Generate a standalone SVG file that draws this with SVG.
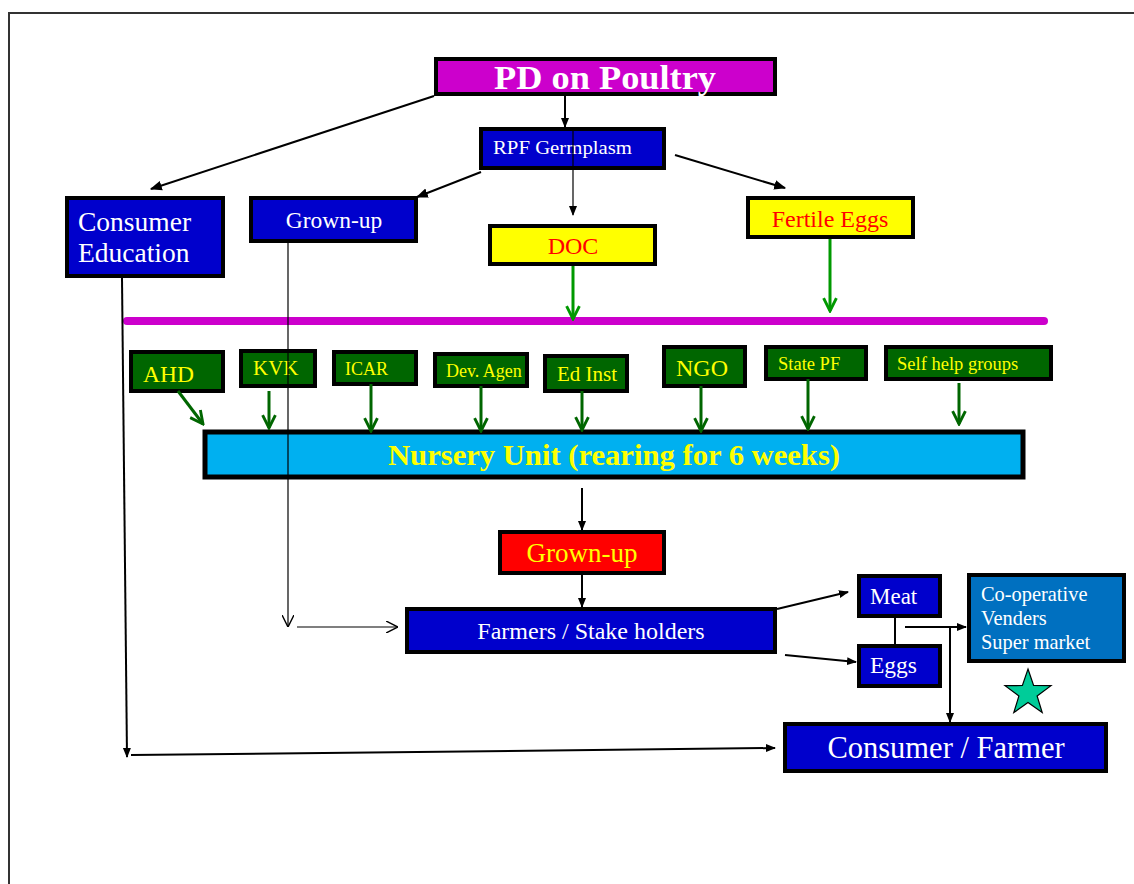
<svg xmlns="http://www.w3.org/2000/svg" width="1134" height="884" viewBox="0 0 1134 884">
<defs>
<style>
.box{stroke:#000;stroke-width:4}
.blue{fill:#0000cc}
.green{fill:#006600}
.yel{fill:#ffff00}
.t{font-family:"Liberation Serif","Times New Roman",serif}
.w{fill:#fff}
.y{fill:#ffff00}
.r{fill:#ff0000}
.k{stroke:#000;stroke-width:2;fill:none}
.kt{stroke:#000;stroke-width:1.2;fill:none}
.g{stroke:#006600;stroke-width:3;fill:none}
.g2{stroke:#009900;stroke-width:3;fill:none}
</style>
<marker id="ah" viewBox="0 0 10 10" refX="9" refY="5" markerWidth="10" markerHeight="10" orient="auto" markerUnits="userSpaceOnUse">
<path d="M0,1 L10,5 L0,9 z" fill="#000"/>
</marker>
<marker id="ahs" viewBox="0 0 10 10" refX="9" refY="5" markerWidth="12" markerHeight="12" orient="auto" markerUnits="userSpaceOnUse">
<path d="M0,1 L10,5 L0,9 z" fill="#000"/>
</marker>
<marker id="av" viewBox="0 0 10 10" refX="10" refY="5" markerWidth="12" markerHeight="12" orient="auto" markerUnits="userSpaceOnUse">
<path d="M0,0 L10,5 L0,10" fill="none" stroke="#000" stroke-width="1.2"/>
</marker>
<marker id="gv" viewBox="0 0 10 10" refX="9" refY="5" markerWidth="16" markerHeight="16" orient="auto" markerUnits="userSpaceOnUse">
<path d="M1,1 L9,5 L1,9" fill="none" stroke="#006600" stroke-width="1.8"/>
</marker>
<marker id="gv2" viewBox="0 0 10 10" refX="9" refY="5" markerWidth="16" markerHeight="16" orient="auto" markerUnits="userSpaceOnUse">
<path d="M1,1 L9,5 L1,9" fill="none" stroke="#009900" stroke-width="1.8"/>
</marker>
</defs>
<rect width="1134" height="884" fill="#fff"/>
<g id="frame">
<path d="M9,884 L9,13 L1134,13" fill="none" stroke="#333" stroke-width="2"/>
</g>
<line x1="127" y1="321" x2="1044" y2="321" stroke="#cc00cc" stroke-width="8" stroke-linecap="round"/>

<g id="pd"><rect class="box" x="436" y="59" width="339" height="35" fill="#cc00cc"/>
<text class="t w" x="605" y="89" font-size="34" font-weight="bold" text-anchor="middle" textLength="222" lengthAdjust="spacingAndGlyphs">PD on Poultry</text></g>
<g id="rpf"><rect class="box blue" x="481" y="129" width="183" height="39"/>
<text class="t w" x="493" y="154" font-size="18" textLength="139" lengthAdjust="spacingAndGlyphs">RPF Germplasm</text></g>
<g id="consedu"><rect class="box blue" x="67" y="198" width="156" height="78"/>
<text class="t w" x="78" y="231" font-size="27.5">Consumer</text>
<text class="t w" x="78" y="262" font-size="27.5">Education</text></g>
<g id="grownup1"><rect class="box blue" x="251" y="198" width="165" height="43"/>
<text class="t w" x="334" y="228" font-size="23.5" text-anchor="middle">Grown-up</text></g>
<g id="doc"><rect class="box yel" x="490" y="226" width="165" height="38"/>
<text class="t r" x="573" y="254" font-size="24" text-anchor="middle">DOC</text></g>
<g id="fertile"><rect class="box yel" x="748" y="198" width="165" height="39"/>
<text class="t r" x="830" y="227" font-size="24" text-anchor="middle">Fertile Eggs</text></g>

<g id="ahd"><rect class="box green" x="131" y="352" width="92" height="39"/>
<text class="t y" x="143" y="382" font-size="23.5">AHD</text></g>
<g id="kvk"><rect class="box green" x="241" y="351" width="74" height="35"/>
<text class="t y" x="253" y="375" font-size="21">KVK</text></g>
<g id="icar"><rect class="box green" x="334" y="352" width="82" height="32"/>
<text class="t y" x="345" y="375" font-size="18">ICAR</text></g>
<g id="dev"><rect class="box green" x="435" y="354" width="92" height="32"/>
<text class="t y" x="446" y="377" font-size="18">Dev. Agen</text></g>
<g id="edinst"><rect class="box green" x="545" y="356" width="82" height="35"/>
<text class="t y" x="557" y="381" font-size="21">Ed Inst</text></g>
<g id="ngo"><rect class="box green" x="664" y="347" width="81" height="39"/>
<text class="t y" x="676" y="376" font-size="24">NGO</text></g>
<g id="statepf"><rect class="box green" x="766" y="347" width="100" height="32"/>
<text class="t y" x="778" y="370" font-size="18.5">State PF</text></g>
<g id="shg"><rect class="box green" x="886" y="347" width="165" height="32"/>
<text class="t y" x="897" y="370" font-size="18.5">Self help groups</text></g>

<g id="nursery"><rect x="205" y="432" width="818" height="45" fill="#00b0f0" stroke="#000" stroke-width="5"/>
<text class="t y" x="614" y="465" font-size="29" font-weight="bold" text-anchor="middle" textLength="452" lengthAdjust="spacingAndGlyphs">Nursery Unit (rearing for 6 weeks)</text></g>
<g id="grownup2"><rect class="box" x="500" y="532" width="164" height="41" fill="#ff0000"/>
<text class="t y" x="582" y="562" font-size="27" text-anchor="middle">Grown-up</text></g>
<g id="farmers"><rect class="box blue" x="407" y="609" width="368" height="43"/>
<text class="t w" x="591" y="639" font-size="24" text-anchor="middle">Farmers / Stake holders</text></g>
<g id="meat"><rect class="box blue" x="859" y="576" width="81" height="40"/>
<text class="t w" x="870" y="604" font-size="23">Meat</text></g>
<g id="eggs"><rect class="box blue" x="859" y="646" width="81" height="40"/>
<text class="t w" x="870" y="673" font-size="23.5">Eggs</text></g>
<g id="coop"><rect class="box" x="969" y="575" width="155" height="86" fill="#0070c0"/>
<text class="t w" x="981" y="601" font-size="20.4">Co-operative</text>
<text class="t w" x="981" y="625" font-size="20.4">Venders</text>
<text class="t w" x="981" y="649" font-size="20.4">Super market</text></g>
<g id="consfarm"><rect class="box blue" x="785" y="724" width="321" height="47"/>
<text class="t w" x="946" y="758" font-size="30.5" text-anchor="middle">Consumer / Farmer</text></g>
<g id="star"><polygon points="1028,669 1033.6,685.5 1051,685.7 1037.1,696 1042.2,712.6 1028,702.6 1013.8,712.6 1018.9,696 1005,685.7 1022.4,685.5" fill="#00cc99" stroke="#000" stroke-width="1.2"/></g>

<g id="connectors">
<line class="k" x1="565" y1="96" x2="565" y2="127" marker-end="url(#ah)"/>
<line class="k" x1="434" y1="96" x2="151" y2="189" marker-end="url(#ahs)"/>
<line class="k" x1="481" y1="172" x2="417" y2="197" marker-end="url(#ahs)"/>
<line class="k" x1="675" y1="155" x2="785" y2="188" marker-end="url(#ahs)"/>
<line class="kt" x1="573" y1="130" x2="573" y2="215" marker-end="url(#ah)"/>
<line class="g2" x1="573" y1="266" x2="573" y2="319" marker-end="url(#gv2)"/>
<line class="g2" x1="830" y1="239" x2="830" y2="311" marker-end="url(#gv2)"/>
<line class="g" x1="178" y1="391" x2="203" y2="424" marker-end="url(#gv)"/>
<line class="g" x1="269" y1="391" x2="269" y2="428" marker-end="url(#gv)"/>
<line class="g" x1="371" y1="384" x2="371" y2="431" marker-end="url(#gv)"/>
<line class="g" x1="481" y1="386" x2="481" y2="431" marker-end="url(#gv)"/>
<line class="g" x1="582" y1="391" x2="582" y2="430" marker-end="url(#gv)"/>
<line class="g" x1="701" y1="386" x2="701" y2="431" marker-end="url(#gv)"/>
<line class="g" x1="808" y1="379" x2="808" y2="429" marker-end="url(#gv)"/>
<line class="g" x1="959" y1="383" x2="959" y2="424" marker-end="url(#gv)"/>
<line class="kt" x1="288" y1="243" x2="288" y2="627" marker-end="url(#av)"/>
<line class="kt" x1="297" y1="627" x2="398" y2="627" marker-end="url(#av)"/>
<line class="k" x1="582" y1="488" x2="582" y2="530" marker-end="url(#ah)"/>
<line class="k" x1="582" y1="575" x2="582" y2="607" marker-end="url(#ah)"/>
<line class="k" x1="122" y1="278" x2="127" y2="757" marker-end="url(#ah)"/>
<line class="k" x1="131" y1="755" x2="775" y2="748" marker-end="url(#ah)"/>
<line class="k" x1="777" y1="609" x2="848" y2="592" marker-end="url(#ah)"/>
<line class="k" x1="785" y1="655" x2="856" y2="662" marker-end="url(#ah)"/>
<line class="k" x1="895" y1="618" x2="895" y2="644"/>
<line class="k" x1="905" y1="627" x2="966" y2="627" marker-end="url(#ah)"/>
<line class="k" x1="950" y1="627" x2="950" y2="722" marker-end="url(#ah)"/>
</g>
</svg>
